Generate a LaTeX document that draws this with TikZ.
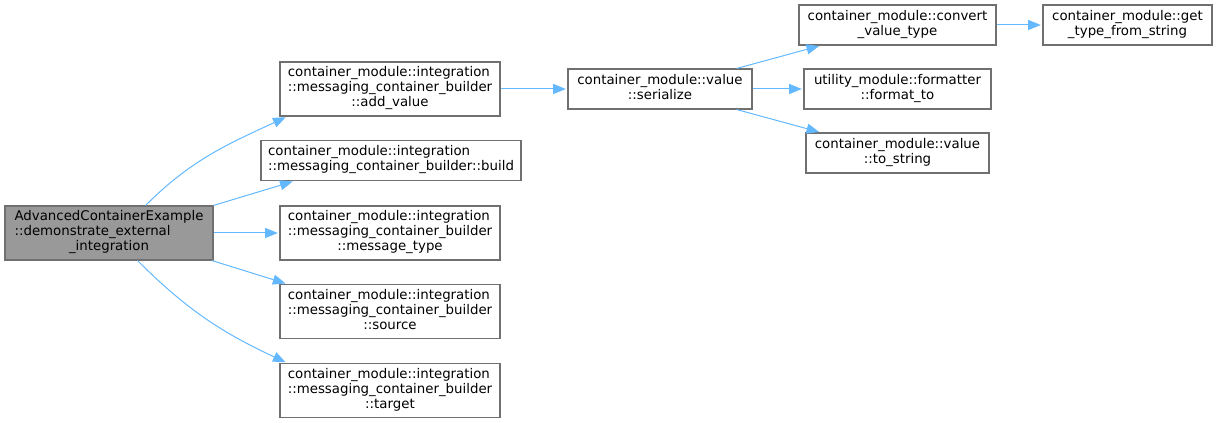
\documentclass[tikz,border=0pt]{standalone}
\usepackage{fontspec}
\setmainfont{DejaVu Sans}
\usetikzlibrary{arrows.meta}
\definecolor{EdgeBlue}{RGB}{99,184,255}
\definecolor{BoxGray}{RGB}{112,112,112}
\definecolor{RootFill}{RGB}{153,153,153}
% left-aligned lines, last line centred
\newcommand{\flabel}[2]{\begin{tabular}{@{}l@{}}#1\\\multicolumn{1}{@{}c@{}}{#2}\end{tabular}}

\begin{document}
\begin{tikzpicture}[x=0.75pt,y=-0.75pt,
  fn/.style={draw=BoxGray, fill=white, line width=0.85pt, inner sep=0pt,
    minimum height=30pt, font=\fontsize{10}{11.25}\selectfont},
  tall/.style={minimum height=40.5pt},
  call/.style={draw=EdgeBlue, line width=0.75pt, shorten >=1.2pt,
    -{Triangle[length=9.5pt,width=7.5pt]}}]
\useasboundingbox (0,0) rectangle (1217,423);

% caller
\node[fn, tall, fill=RootFill, minimum width=156pt] (root) at (109,233)
  {\flabel{AdvancedContainerExample\\::demonstrate\_external}{\_integration}};

% builder members
\node[fn, tall, minimum width=165pt] (addvalue) at (390,89)
  {\flabel{container\_module::integration\\::messaging\_container\_builder}{::add\_value}};
\node[fn, minimum width=195pt] (build) at (391,160.5)
  {\flabel{container\_module::integration}{::messaging\_container\_builder::build}};
\node[fn, tall, minimum width=165pt] (msgtype) at (390,233)
  {\flabel{container\_module::integration\\::messaging\_container\_builder}{::message\_type}};
\node[fn, tall, minimum width=165pt] (source) at (390,311.5)
  {\flabel{container\_module::integration\\::messaging\_container\_builder}{::source}};
\node[fn, tall, minimum width=165pt] (target) at (390,390.5)
  {\flabel{container\_module::integration\\::messaging\_container\_builder}{::target}};

% value side
\node[fn, minimum width=138pt] (serialize) at (660,89)
  {\flabel{container\_module::value}{::serialize}};
\node[fn, minimum width=147.75pt] (convert) at (897.5,25)
  {\flabel{container\_module::convert}{\_value\_type}};
\node[fn, minimum width=140.25pt] (formatto) at (897.5,89)
  {\flabel{utility\_module::formatter}{::format\_to}};
\node[fn, minimum width=137.25pt] (tostring) at (897.5,153)
  {\flabel{container\_module::value}{::to\_string}};
\node[fn, minimum width=126.75pt] (gettype) at (1127.5,25)
  {\flabel{container\_module::get}{\_type\_from\_string}};

% calls
\draw[call] (root.37) to[out=45,in=205] (addvalue.195);
\draw[call] (root.north east) -- (build.192);
\draw[call] (root.east) -- (msgtype.west);
\draw[call] (root.-15) -- (source.165);
\draw[call] (root.-44) to[out=-45,in=155] (target.165);
\draw[call] (addvalue.east) -- (serialize.west);
\draw[call] (serialize.15) -- (convert.195);
\draw[call] (serialize.east) -- (formatto.west);
\draw[call] (serialize.-15) -- (tostring.165);
\draw[call] (convert.east) -- (gettype.west);
\end{tikzpicture}
\end{document}
